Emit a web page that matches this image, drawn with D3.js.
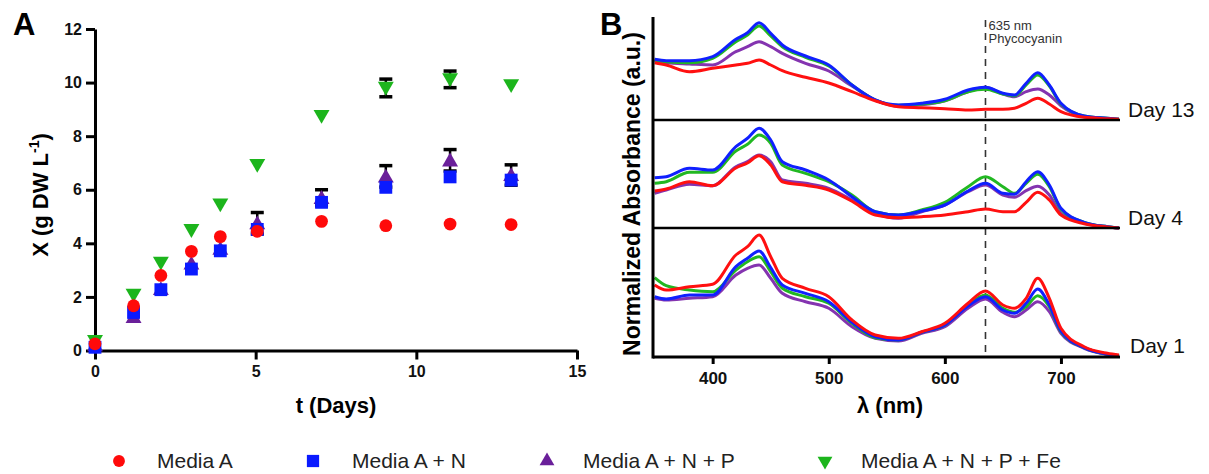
<!DOCTYPE html>
<html><head><meta charset="utf-8">
<script src="https://cdn.jsdelivr.net/npm/d3@7"></script>
<style>
body{margin:0;background:#fff}
svg{display:block;font-family:"Liberation Sans",Arial,Helvetica,sans-serif}
</style>
</head><body>
<svg id="chart" width="1209" height="474"></svg>
<script>
// ---- Panel A: biomass over time ----
const days = [0, 1.2, 2.05, 3, 3.9, 5.05, 7.05, 9.05, 11.05, 12.95];
const mediaA = [0.25, 1.67, 2.8, 3.7, 4.25, 4.45, 4.82, 4.66, 4.72, 4.7];
const mediaAN = [0.12, 1.42, 2.27, 3.04, 3.72, 4.52, 5.53, 6.09, 6.48, 6.36];
const mediaANP = [0.2, 1.25, 2.3, 3.25, 3.8, 4.75, 5.7, 6.5, 7.1, 6.55];
const mediaANPErr = [0, 0, 0, 0, 0, 0.4, 0.3, 0.4, 0.4, 0.38];
const mediaANPFe = [0.35, 2.08, 3.27, 4.49, 5.45, 6.92, 8.75, 9.8, 10.12, 9.9];
const mediaANPFeErr = [0, 0, 0, 0, 0, 0, 0, 0.33, 0.31, 0];
const xTicksA = [0, 5, 10, 15];
const yTicksA = [0, 2, 4, 6, 8, 10, 12];

// ---- Panel B: normalized absorbance spectra ----
const wavelengths = [350,360,380,400,420,430,440,450,460,480,500,520,540,560,580,600,620,635,650,660,670,680,690,700,720,740,750];
const day13A    = [0.573,0.55,0.483,0.517,0.55,0.567,0.60,0.55,0.493,0.427,0.37,0.283,0.193,0.133,0.123,0.113,0.10,0.107,0.107,0.117,0.167,0.217,0.16,0.083,0.027,0.013,0.007];
const day13AN   = [0.607,0.593,0.593,0.633,0.807,0.873,0.973,0.867,0.75,0.64,0.55,0.35,0.2,0.15,0.167,0.207,0.30,0.327,0.267,0.25,0.367,0.473,0.35,0.167,0.04,0.017,0.007];
const day13ANP  = [0.593,0.573,0.56,0.55,0.683,0.733,0.783,0.733,0.667,0.567,0.49,0.34,0.2,0.14,0.153,0.193,0.283,0.327,0.26,0.233,0.283,0.31,0.25,0.143,0.033,0.013,0.007];
const day13ANPFe= [0.60,0.583,0.573,0.617,0.783,0.85,0.94,0.84,0.733,0.627,0.54,0.35,0.2,0.147,0.16,0.193,0.283,0.307,0.26,0.24,0.35,0.45,0.34,0.16,0.04,0.017,0.007];
const day4A     = [0.37,0.39,0.463,0.423,0.60,0.65,0.723,0.63,0.463,0.427,0.38,0.267,0.13,0.103,0.113,0.13,0.163,0.19,0.163,0.163,0.257,0.357,0.28,0.13,0.043,0.01,0];
const day4AN    = [0.503,0.513,0.597,0.58,0.813,0.897,0.997,0.88,0.663,0.58,0.48,0.313,0.163,0.13,0.17,0.23,0.37,0.447,0.347,0.337,0.463,0.563,0.43,0.197,0.057,0.013,0];
const day4ANP   = [0.347,0.38,0.437,0.423,0.613,0.663,0.73,0.663,0.48,0.447,0.397,0.28,0.147,0.097,0.163,0.23,0.363,0.43,0.33,0.307,0.373,0.417,0.33,0.147,0.047,0.01,0];
const day4ANPFe = [0.447,0.463,0.557,0.557,0.77,0.837,0.93,0.847,0.63,0.547,0.463,0.33,0.163,0.13,0.18,0.257,0.413,0.513,0.413,0.347,0.447,0.537,0.413,0.187,0.057,0.013,0];
const day1A     = [0.72,0.67,0.703,0.727,1.02,1.103,1.22,1.003,0.787,0.687,0.603,0.37,0.22,0.187,0.253,0.337,0.537,0.66,0.52,0.487,0.587,0.787,0.587,0.287,0.103,0.037,0.02];
const day1AN    = [0.603,0.58,0.62,0.62,0.903,0.987,1.06,0.893,0.72,0.637,0.553,0.347,0.203,0.17,0.247,0.32,0.51,0.603,0.47,0.437,0.537,0.68,0.52,0.26,0.093,0.027,0.013];
const day1ANP   = [0.587,0.57,0.587,0.603,0.82,0.887,0.92,0.787,0.637,0.553,0.487,0.303,0.187,0.16,0.237,0.303,0.487,0.58,0.447,0.403,0.47,0.553,0.453,0.237,0.087,0.027,0.013];
const day1ANPFe = [0.793,0.713,0.67,0.653,0.87,0.953,1.003,0.853,0.687,0.603,0.537,0.337,0.193,0.17,0.247,0.32,0.52,0.62,0.487,0.447,0.503,0.613,0.503,0.253,0.093,0.027,0.013];
const dayLabels = ["Day 13", "Day 4", "Day 1"];
const dayOffsets = [2.37, 1.29, 0];
const xTicksB = [400, 500, 600, 700];
const markerWavelength = 635;

const seriesNames = ["Media A", "Media A + N", "Media A + N + P", "Media A + N + P + Fe"];
const markerColors = ["#ff0a0a", "#0a1aff", "#6a1f9a", "#1cb51c"];
const lineColors = ["#ff1010", "#1020ff", "#8434b0", "#22b822"];

const svg = d3.select("#chart");
const font = '"Liberation Sans",Arial,Helvetica,sans-serif';

function styleAxis(g, size) {
  g.selectAll("path.domain").attr("stroke", "#000").attr("stroke-width", 3);
  g.selectAll(".tick line").attr("stroke", "#000").attr("stroke-width", 3);
  g.selectAll(".tick text").attr("fill", "#111").attr("font-weight", "bold")
    .attr("font-size", size).attr("font-family", font);
}

// ================= Panel A =================
const xA = d3.scaleLinear().domain([0, 15]).range([95, 577]);
const yA = d3.scaleLinear().domain([0, 12]).range([350.5, 29]);

svg.append("g").attr("transform", `translate(0,${yA(0)})`)
  .call(d3.axisBottom(xA).tickValues(xTicksA).tickSize(9).tickSizeOuter(0).tickPadding(6))
  .call(g => styleAxis(g, 16));
svg.append("g").attr("transform", `translate(${xA(0)},0)`)
  .call(d3.axisLeft(yA).tickValues(yTicksA).tickSize(9).tickSizeOuter(0).tickPadding(4))
  .call(g => styleAxis(g, 16));

svg.append("text").attr("x", 13).attr("y", 35).attr("font-size", 31).attr("font-weight", "bold")
  .attr("font-family", font).text("A");
svg.append("text").attr("x", 336).attr("y", 413).attr("text-anchor", "middle")
  .attr("font-size", 22).attr("font-weight", "bold").attr("font-family", font).text("t (Days)");
const yLabA = svg.append("text").attr("transform", "translate(48,195) rotate(-90)")
  .attr("text-anchor", "middle").attr("font-size", 22).attr("font-weight", "bold").attr("font-family", font);
yLabA.append("tspan").text("X (g DW L");
yLabA.append("tspan").attr("font-size", 14).attr("dy", -9).text("-1");
yLabA.append("tspan").attr("dy", 9).text(")");

const symbols = [d3.symbolCircle, d3.symbolSquare, d3.symbolTriangle, d3.symbolTriangle];
const symbolSizes = [128, 165, 110, 110];
const symbolRot = [0, 0, 0, 180];
const groups = [mediaA, mediaAN, mediaANP, mediaANPFe];

function drawErr(vals, e) {
  const g = svg.append("g");
  days.forEach((d, i) => {
    if (!e[i]) return;
    const x = xA(d), y1 = yA(vals[i] + e[i]), y0 = yA(vals[i] - e[i]);
    g.append("line").attr("x1", x).attr("x2", x).attr("y1", y1).attr("y2", y0)
      .attr("stroke", "#000").attr("stroke-width", 2.5);
    [y1, y0].forEach(y => g.append("line").attr("x1", x - 6.5).attr("x2", x + 6.5)
      .attr("y1", y).attr("y2", y).attr("stroke", "#000").attr("stroke-width", 3.5));
  });
}
function drawMarkers(k) {
  const sym = d3.symbol().type(symbols[k]).size(symbolSizes[k]);
  svg.append("g").selectAll("path").data(groups[k]).join("path")
    .attr("d", sym)
    .attr("transform", (v, i) => `translate(${xA(days[i])},${yA(v) + (k === 2 ? 1.5 : k === 3 ? -1.5 : 0)}) rotate(${symbolRot[k]})`)
    .attr("fill", markerColors[k]);
}
// Stacking: purple lowest, then green, blue, red on top
drawErr(mediaANP, mediaANPErr);
drawMarkers(2);
drawErr(mediaANPFe, mediaANPFeErr);
drawMarkers(3);
drawMarkers(1);
drawMarkers(0);

// ================= Panel B =================
const xB = d3.scaleLinear().domain([350, 750]).range([654.6, 1119]);
const yB = d3.scaleLinear().domain([0, 3.4]).range([357, 17]);

const spectra = [
  [day13A, day13AN, day13ANP, day13ANPFe],
  [day4A, day4AN, day4ANP, day4ANPFe],
  [day1A, day1AN, day1ANP, day1ANPFe]
];

// dashed phycocyanin marker
svg.append("line").attr("x1", xB(markerWavelength)).attr("x2", xB(markerWavelength))
  .attr("y1", 20).attr("y2", 357).attr("stroke", "#333").attr("stroke-width", 1.6)
  .attr("stroke-dasharray", "7,6");
svg.append("text").attr("x", xB(markerWavelength) + 3).attr("y", 30).attr("font-size", 13)
  .attr("fill", "#333").attr("font-family", font).text("635 nm");
svg.append("text").attr("x", xB(markerWavelength) + 3).attr("y", 43).attr("font-size", 13)
  .attr("fill", "#333").attr("font-family", font).text("Phycocyanin");

const line = d3.line().curve(d3.curveMonotoneX);
const drawOrder = [2, 3, 1, 0];
spectra.forEach((set, di) => {
  const off = dayOffsets[di];
  drawOrder.forEach(k => {
    svg.append("path")
      .attr("d", line(wavelengths.map((w, i) => [xB(w), yB(set[k][i] + off)])))
      .attr("fill", "none").attr("stroke", lineColors[k]).attr("stroke-width", 3)
      .attr("stroke-linejoin", "round");
  });
});

// band separators
dayOffsets.slice(0, 2).forEach(off => {
  svg.append("line").attr("x1", 653).attr("x2", xB(750) + 1).attr("y1", yB(off)).attr("y2", yB(off))
    .attr("stroke", "#000").attr("stroke-width", 2.5);
});
dayLabels.forEach((t, i) => {
  svg.append("text").attr("x", 1128 + (i === 2 ? 2 : 0)).attr("y", yB(dayOffsets[i]) - 3 - (i === 2 ? 1 : 0))
    .attr("font-size", 21).attr("font-family", font).attr("fill", "#111").text(t);
});

svg.append("g").attr("transform", `translate(0,${yB(0)})`)
  .call(d3.axisBottom(xB).tickValues(xTicksB).tickSize(7).tickSizeOuter(0).tickPadding(8))
  .call(g => styleAxis(g, 17))
  .call(g => g.select("path.domain").attr("d", `M653,0H${xB(750) + 1}`));
svg.append("line").attr("x1", 653).attr("x2", 653).attr("y1", 17).attr("y2", 358.5)
  .attr("stroke", "#000").attr("stroke-width", 3);

svg.append("text").attr("x", 600).attr("y", 35).attr("font-size", 31).attr("font-weight", "bold")
  .attr("font-family", font).text("B");
svg.append("text").attr("x", 890).attr("y", 413).attr("text-anchor", "middle")
  .attr("font-size", 22).attr("font-weight", "bold").attr("font-family", font).text("λ (nm)");
svg.append("text").attr("transform", "translate(640,194) rotate(-90)").attr("text-anchor", "middle")
  .attr("font-size", 23).attr("font-weight", "bold").attr("font-family", font)
  .text("Normalized Absorbance (a.u.)");

// ================= Legend =================
const legendMarkX = [119, 313, 547, 825];
const legendTextX = [157, 352, 583, 861];
seriesNames.forEach((name, k) => {
  const sym = d3.symbol().type(symbols[k]).size(k === 0 ? 110 : k === 1 ? 150 : 95);
  svg.append("path").attr("d", sym)
    .attr("transform", `translate(${legendMarkX[k]},461) rotate(${symbolRot[k]})`)
    .attr("fill", markerColors[k]);
  svg.append("text").attr("x", legendTextX[k]).attr("y", 468).attr("font-size", 21)
    .attr("font-family", font).attr("fill", "#222").text(name);
});
</script>
</body></html>
